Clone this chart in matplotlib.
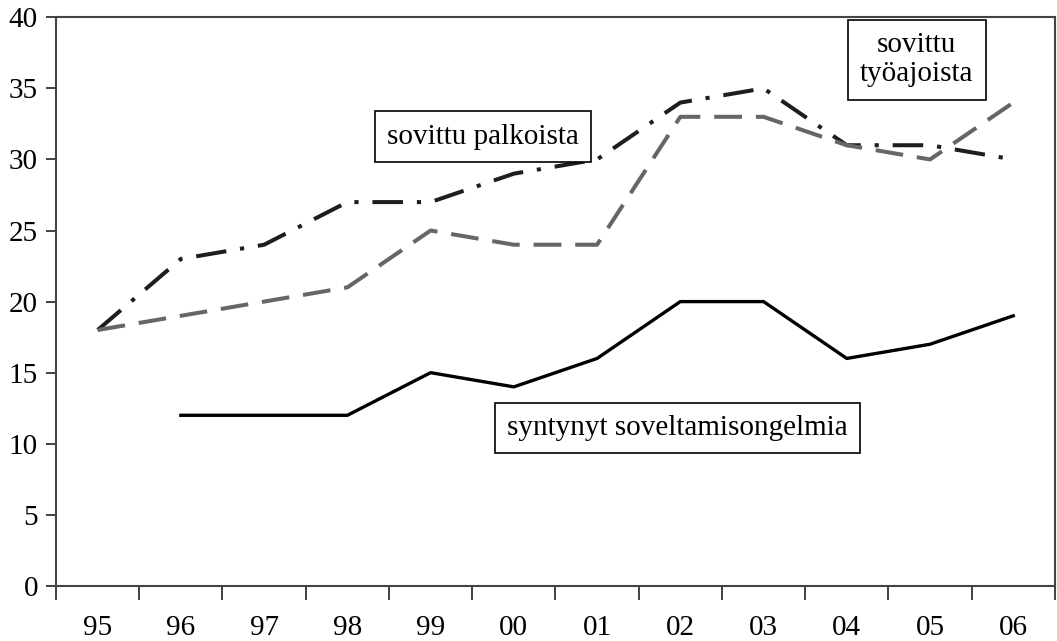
import numpy as np
import matplotlib
matplotlib.use('Agg')
import matplotlib.pyplot as plt

# vuodet ja sarjat
vuodet = ['95', '96', '97', '98', '99', '00', '01', '02', '03', '04', '05', '06']
palkoista = [18, 23, 24, 27, 27, 29, 30, 34, 35, 31, 31, 30]
tyoajoista = [18, 19, 20, 21, 25, 24, 24, 33, 33, 31, 30, 34]
ongelmia = [np.nan, 12, 12, 12, 15, 14, 16, 20, 20, 16, 17, 19]

plt.rcParams['font.family'] = ['Liberation Serif', 'DejaVu Serif']
plt.rcParams['lines.scale_dashes'] = False

fig = plt.figure(figsize=(10.57, 6.41), dpi=100)
ax = fig.add_axes([0.053, 0.086, 0.945, 0.887])

x = np.arange(len(vuodet))
l1, = ax.plot(x, palkoista, color='#1e1e1e', lw=2.9)
l1.set_dashes([22, 10, 3, 10])
l2, = ax.plot(x, tyoajoista, color='#666666', lw=2.9)
l2.set_dashes([20, 10])
ax.plot(x, ongelmia, color='black', lw=2.4)

ax.set_xlim(-0.5, len(vuodet) - 0.5)
ax.set_ylim(0, 40)
ax.set_yticks(np.arange(0, 41, 5))
ax.set_xticks(np.arange(-0.5, len(vuodet), 1))
ax.set_xticklabels([])
ax.set_xticks(x, minor=True)
ax.set_xticklabels(vuodet, minor=True)
ax.tick_params(axis='x', which='major', length=10, width=1.3, color='#333333', direction='out')
ax.tick_params(axis='x', which='minor', length=0, pad=21, labelsize=21)
ax.tick_params(axis='y', length=7, width=1.3, color='#333333', labelsize=21, pad=6)

for s in ax.spines.values():
    s.set_color('#444444')
    s.set_linewidth(1.5)

box = dict(boxstyle='square,pad=0.42', fc='white', ec='black', lw=1.2)
ax.text(4.63, 31.6, 'sovittu palkoista', ha='center', va='center', fontsize=21, bbox=box)
ax.text(9.84, 37.0, 'sovittu\ntyöajoista', ha='center', va='center', fontsize=21, bbox=box, linespacing=1.15)
ax.text(6.97, 11.1, 'syntynyt soveltamisongelmia', ha='center', va='center', fontsize=21, bbox=box)

fig.savefig('out.png', dpi=100)
